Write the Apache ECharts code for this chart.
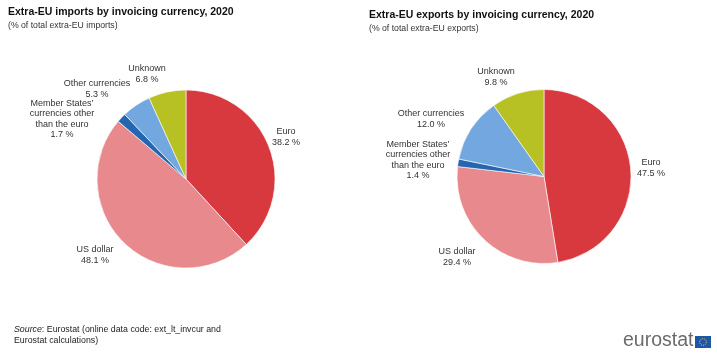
<!DOCTYPE html>
<html><head><meta charset="utf-8">
<script src="https://cdn.jsdelivr.net/npm/echarts@6/dist/echarts.min.js"></script>
<style>html,body{margin:0;padding:0;background:#fff}#c{width:717px;height:355px}</style>
</head><body><div id="c"></div>
<script>
const categories = ['Euro', 'US dollar', 'Member States\u2019\ncurrencies other\nthan the euro', 'Other currencies', 'Unknown'];
const importsValues = [38.2, 48.1, 1.7, 5.3, 6.8];
const exportsValues = [47.5, 29.4, 1.4, 12.0, 9.8];
const colors = ['#d7393f', '#e8898d', '#2466b0', '#72a8df', '#b8c123'];
const titles = ['Extra-EU imports by invoicing currency, 2020', 'Extra-EU exports by invoicing currency, 2020'];
const subtitles = ['(% of total extra-EU imports)', '(% of total extra-EU exports)'];

const labelPos = [
  [[286, 137], [95, 255], [62, 119], [97, 89], [147, 74]],
  [[651, 168], [457, 257], [418, 160], [431, 119], [496, 77]]
];

const font = 'Arial, "Liberation Sans", sans-serif';
function mk(vals) {
  return categories.map((n, i) => ({
    name: n, value: vals[i],
    itemStyle: { color: colors[i] },
    labelLine: { show: false }
  }));
}
const impData = mk(importsValues);
impData[2].labelLine = { show: true, length: 4, length2: 18, lineStyle: { color: '#888', width: 0.8 } };
const expData = mk(exportsValues);

function series(data, center, r, si) {
  return {
    type: 'pie', center: center, radius: r, startAngle: 90, clockwise: true,
    animation: false, silent: true,
    itemStyle: { borderColor: '#fff', borderWidth: 0.6 },
    label: {
      show: true, position: 'outside', color: '#333', fontSize: 9, fontFamily: font,
      lineHeight: 10.5, align: 'center', overflow: 'none', width: 120,
      formatter: p => p.name + '\n' + p.value.toFixed(1) + ' %'
    },
    labelLayout: p => ({ x: labelPos[si][p.dataIndex][0], y: labelPos[si][p.dataIndex][1], align: 'center', verticalAlign: 'middle' }),
    data: data
  };
}

const chart = echarts.init(document.getElementById('c'), null, { renderer: 'canvas' });
chart.setOption({
  backgroundColor: '#fff',
  title: [
    { text: titles[0], subtext: subtitles[0], left: 8, top: 7, itemGap: 3, padding: 0,
      textStyle: { fontSize: 10.5, fontWeight: 'bold', color: '#111', fontFamily: font },
      subtextStyle: { fontSize: 8.7, color: '#333', fontFamily: font } },
    { text: titles[1], subtext: subtitles[1], left: 369, top: 10, itemGap: 3, padding: 0,
      textStyle: { fontSize: 10.5, fontWeight: 'bold', color: '#111', fontFamily: font },
      subtextStyle: { fontSize: 8.7, color: '#333', fontFamily: font } }
  ],
  series: [
    series(impData, [186, 179], 89, 0),
    series(expData, [544, 176.5], 87, 1)
  ],
  graphic: [
    { type: 'text', left: 14, top: 324, style: { text: '{i|Source}: Eurostat (online data code: ext_lt_invcur and\nEurostat calculations)', fontSize: 8.8, fontFamily: font, fill: '#222', lineHeight: 11,
      rich: { i: { fontStyle: 'italic', fontSize: 8.8, fontFamily: font, fill: '#222' } } } },
    { type: 'text', left: 623, top: 331, style: { text: 'eurostat', fontSize: 19.5, fontFamily: font, fill: '#6b6b6b' } },
    { type: 'rect', shape: { x: 695, y: 336, width: 16, height: 12 }, style: { fill: '#1f57a8' } },
    { type: 'circle', shape: { cx: 703, cy: 342, r: 3.3 }, style: { fill: 'none', stroke: '#f5d33a', lineWidth: 1, lineDash: [1, 1] } }
  ]
});
</script></body></html>
